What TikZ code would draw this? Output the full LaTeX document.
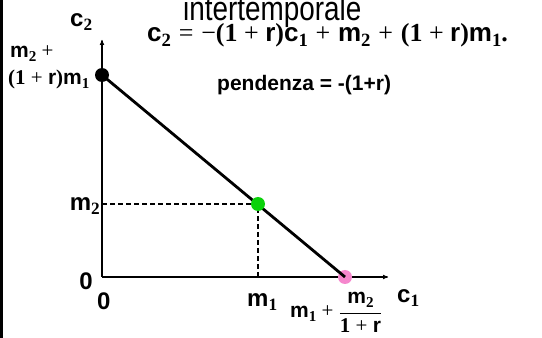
\documentclass[tikz,border=0pt]{standalone}
\usepackage{fontspec}
\setmainfont{Liberation Sans}
\setsansfont{Liberation Sans}
\newfontfamily\eqserif{Liberation Serif}
\newfontfamily\ttlfont{Liberation Sans}[FakeStretch=0.82]
\usepackage{xcolor}
\usepackage{tikz}
\usetikzlibrary{arrows.meta}
\definecolor{budgetgreen}{RGB}{10,210,10}
\definecolor{budgetpink}{RGB}{245,135,205}
\newcommand{\sv}[1]{{\sffamily\bfseries #1}}
\newcommand{\dg}[1]{{\eqserif\bfseries #1}}
\newcommand{\lo}[1]{\raisebox{-0.3ex}{\scalebox{0.72}{\eqserif\bfseries #1}}}
\newcommand{\op}[1]{\hspace{0.25em}{\eqserif #1}\hspace{0.25em}}
\newcommand{\wop}[1]{\hspace{0.3em}{\eqserif #1}\hspace{0.3em}}
\tikzset{
  axis/.style={-{To[length=1.8mm,width=1.6mm]}, line width=1.1pt},
  budget/.style={line width=2.8pt},
  guide/.style={line width=1.1pt, dash pattern=on 5pt off 3pt},
  dot/.style={circle, inner sep=0pt, minimum size=14pt},
  axlbl/.style={font=\fontsize{24}{28}\selectfont, inner sep=0pt},
  lbl/.style={font=\sffamily\bfseries\fontsize{21}{24}\selectfont, inner sep=0pt},
  eqlbl/.style={font=\fontsize{26}{30}\selectfont, inner sep=0pt},
  smeq/.style={font=\fontsize{21}{24}\selectfont, inner sep=0pt},
  ttl/.style={font=\ttlfont\fontsize{34}{38}\selectfont, inner sep=0pt}
}

\begin{document}
\begin{tikzpicture}[x=1pt, y=1pt]
\useasboundingbox (0,0) rectangle (542,338);
\fill (0,0) rectangle (3,338);
\coordinate (o) at (102,61);
\coordinate (ytop) at (102,298);
\coordinate (xend) at (388,61);
\draw[axis] (o) -- (ytop);
\draw[axis] (o) -- (xend);
\node[dot, fill=black] (top) at (102,263) {};
\node[dot, fill=budgetpink] (bot) at (345,61) {};
\coordinate (ym2) at (102,134);
\coordinate (xm1) at (258,61);
\draw[guide] (ym2) -- (258,134) -- (xm1);
\draw[budget] (top.center) -- (bot.center);
\node[dot, fill=budgetgreen] (endow) at (258,134) {};
\node[ttl, anchor=base west] (title) at (183,317) {intertemporale};
\node[eqlbl, anchor=base west] (eq) at (147,296) {\sv{c}\lo{2}\wop{=}{\eqserif −}\dg{(1}\op{+}\sv{r}\dg{)}\sv{c}\lo{1}\wop{+}\sv{m}\lo{2}\wop{+}\dg{(1}\op{+}\sv{r}\dg{)}\sv{m}\lo{1}\dg{.}};
\node[lbl, anchor=base west] (slope) at (217,247) {pendenza = -(1+r)};
\node[axlbl, anchor=base west] (c2) at (70,311) {\sv{c}\lo{2}};
\node[smeq, anchor=base west] (ytopa) at (10,280) {\sv{m}\lo{2}\op{+}};
\node[smeq, anchor=base west] (ytopb) at (8,253) {\dg{(1}\op{+}\sv{r}\dg{)}\sv{m}\lo{1}};
\node[axlbl, anchor=base east] (m2) at (100,127) {\sv{m}\lo{2}};
\node[axlbl, anchor=base east] (zeroy) at (93,48) {\sv{0}};
\node[axlbl, anchor=base west] (zerox) at (97,28) {\sv{0}};
\node[axlbl, anchor=base west] (m1) at (247,31) {\sv{m}\lo{1}};
\node[smeq, anchor=base west] (xint) at (290,20) {\sv{m}\lo{1}\op{+}$\displaystyle\frac{\hbox{\sv{m}\lo{2}}}{\hbox{\dg{1}\op{+}\sv{r}}}$};
\node[axlbl, anchor=base west] (c1) at (397,35) {\sv{c}\lo{1}};
\end{tikzpicture}
\end{document}
